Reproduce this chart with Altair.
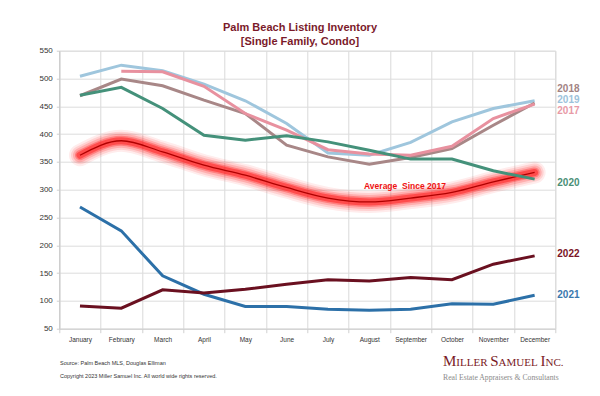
import altair as alt
import pandas as pd

months = ["January", "February", "March", "April", "May", "June", "July",
          "August", "September", "October", "November", "December"]

s2017 = [None, 513, 512, 486, 437, 407, 372, 364, 362, 378, 428, 454]
s2018 = [469, 499, 487, 461, 437, 380, 359, 346, 358, 374, 416, 456]
s2019 = [504, 524, 514, 490, 460, 419, 366, 362, 385, 422, 446, 460]
s2020 = [470, 484, 446, 398, 389, 397, 386, 371, 355, 355, 334, 319]
s2021 = [269, 226, 145, 112, 90, 90, 85, 83, 85, 95, 94, 110]
s2022 = [91, 87, 120, 114, 121, 130, 138, 136, 142, 138, 166, 181]
avg = [362, 388, 368, 344, 326, 304, 285, 278, 285, 295, 314, 331]

series_names = ["2019", "2018", "2017", "2020", "2021", "2022"]
series_vals = [s2019, s2018, s2017, s2020, s2021, s2022]
series_colors = ["#9fc6dd", "#a88787", "#e8919f", "#44917a", "#2c70a8", "#6a1020"]

label_years = ["2018", "2019", "2017", "2020", "2022", "2021"]
label_vals = [482, 462, 442, 312, 184, 111]
label_colors = ["#a28383", "#9dc3db", "#e89aa6", "#4a8f76", "#7a1426", "#3a78ad"]

rows = []
for name, vals in zip(series_names, series_vals):
    for m, v in zip(months, vals):
        if v is not None:
            rows.append({"month": m, "value": v, "series": name})
df = pd.DataFrame(rows)
df_avg = pd.DataFrame({"month": months, "value": avg})
df_lab = pd.DataFrame({"label": label_years, "value": label_vals, "color": label_colors})

W, H = 496, 278
FONT = "Liberation Sans"

xenc = alt.X("month:N", sort=months,
             scale=alt.Scale(type="band", paddingInner=0, paddingOuter=0),
             axis=alt.Axis(title=None, labelAngle=0, labelFontSize=6.5, labelColor="#333",
                           labelFont=FONT, tickBand="extent", tickSize=4, tickColor="#d0d0d0",
                           grid=True, gridColor="#d9d9d9", domainColor="#d0d0d0",
                           labelPadding=4, labelOverlap=False))
yenc = alt.Y("value:Q", scale=alt.Scale(domain=[50, 550], nice=False, zero=False),
             axis=alt.Axis(title=None, values=list(range(50, 551, 50)), labelFontSize=8,
                           labelColor="#333", labelFont=FONT, tickSize=3, tickColor="#d0d0d0",
                           grid=True, gridColor="#dcdcdc", domainColor="#c8c8c8",
                           labelPadding=4, labelOverlap=False))

lines = alt.Chart(df).mark_line(strokeWidth=3).encode(
    x=xenc, y=yenc,
    color=alt.Color("series:N", scale=alt.Scale(domain=series_names, range=series_colors), legend=None),
    detail="series:N",
)

glow_layers = []
for w, op in [(22, 0.08), (18, 0.12), (14, 0.18), (10, 0.3), (7, 0.45)]:
    glow_layers.append(
        alt.Chart(df_avg).mark_line(strokeWidth=w, color="#ff1010", opacity=op,
                                    interpolate="monotone", strokeCap="round").encode(
            x=xenc, y=yenc)
    )
core = alt.Chart(df_avg).mark_line(strokeWidth=1.3, color="#b00000",
                                   interpolate="monotone").encode(x=xenc, y=yenc)

labels = alt.Chart(df_lab).mark_text(align="left", baseline="middle", fontSize=10,
                                     fontWeight="bold", font=FONT).encode(
    x=alt.value(W + 2), y=yenc,
    color=alt.Color("color:N", scale=None), text="label:N")

def txt(s, x, y, size, color, weight="normal", align="left", font=FONT, style="normal",
        baseline="middle"):
    return alt.Chart(pd.DataFrame({"t": [s]})).mark_text(
        align=align, baseline=baseline, fontSize=size, fontWeight=weight, color=color,
        font=font, fontStyle=style).encode(x=alt.value(x), y=alt.value(y), text="t:N")

OX, OY = 59.3, 50.7
texts = [
    txt("Palm Beach Listing Inventory", 300 - OX, 28 - OY, 11, "#7b1a2a", "bold", "center"),
    txt("[Single Family, Condo]", 300 - OX, 42 - OY, 11, "#7b1a2a", "bold", "center"),
    txt("Average\u00a0 Since 2017", 405 - OX, 186 - OY, 8.5, "#ee1111", "bold", "center"),
    txt("Source: Palm Beach MLS, Douglas Elliman", 60 - OX, 363 - OY, 5.5, "#333"),
    txt("Copyright 2023 Miller Samuel Inc.  All world wide rights reserved.", 60 - OX, 376 - OY, 5.5, "#333"),
    txt("Real Estate Appraisers & Consultants", 443 - OX, 380 - OY, 7.7, "#8a8a8a",
        font="Liberation Serif", baseline="alphabetic"),
]

# small caps brand
big, small = 15, 11
wid = {"M": 0.889, "I": 0.333, "L": 0.611, "E": 0.611, "R": 0.667, "S": 0.556, "A": 0.722,
       "U": 0.722, "N": 0.722, "C": 0.667, ".": 0.25, " ": 0.25}
pieces = [("M", big), ("ILLER ", small), ("S", big), ("AMUEL ", small), ("I", big), ("NC.", small)]
cx = 443 - OX
for s, sz in pieces:
    texts.append(txt(s, cx, 366 - OY, sz, "#7a1a26", font="Liberation Serif", baseline="alphabetic"))
    cx += sum(wid[c] for c in s) * sz

chart = alt.layer(*glow_layers, core, lines, labels, *texts).properties(
    width=W, height=H,
    padding={"left": 51.3, "top": 42.7, "right": 584 - 51.3 - W, "bottom": 380 - 42.7 - H},
    autosize=alt.AutoSizeParams(type="none"),
).configure_view(stroke=None).configure(background="white")

chart.save("out.html", embed_options={"renderer": "svg", "actions": False})
